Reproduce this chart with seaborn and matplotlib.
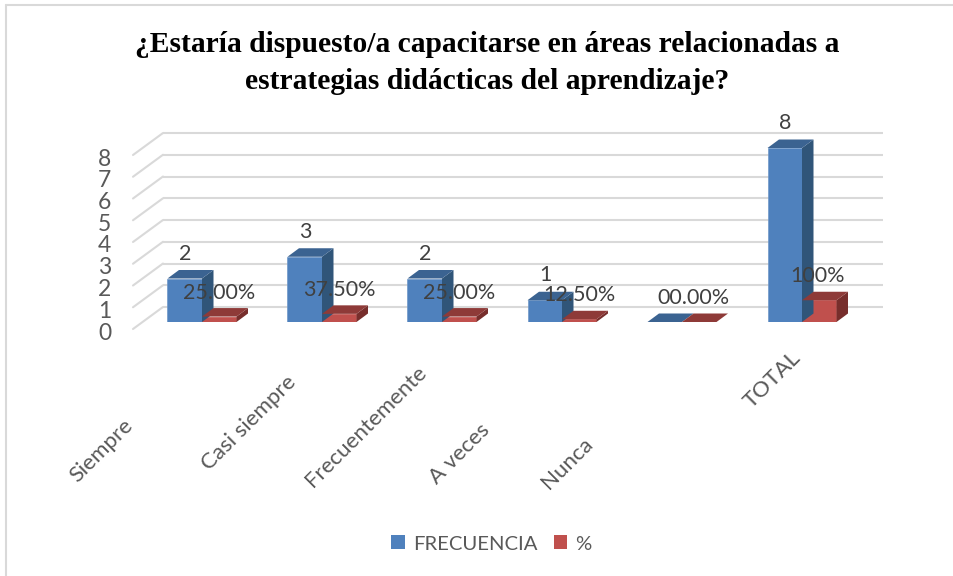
import matplotlib
matplotlib.use("Agg")
import matplotlib.pyplot as plt
from matplotlib.lines import Line2D
from matplotlib.patches import Polygon
from matplotlib.transforms import Affine2D
import pandas as pd
import seaborn as sns

categories = ["Siempre", "Casi siempre", "Frecuentemente", "A veces", "Nunca", "TOTAL"]
frecuencia = [2, 3, 2, 1, 0, 8]
porcentaje = [0.25, 0.375, 0.25, 0.125, 0.0, 1.0]
frecuencia_labels = ["2", "3", "2", "1", "", "8"]
porcentaje_labels = ["25.00%", "37.50%", "25.00%", "12.50%", "00.00%", "100%"]
y_ticks = [0, 1, 2, 3, 4, 5, 6, 7, 8]
title = "¿Estaría dispuesto/a capacitarse en áreas relacionadas a\nestrategias didácticas del aprendizaje?"

W, H = 954, 576
sns.set_theme(style="white")
plt.rcParams["font.family"] = ["Lato", "DejaVu Sans"]

BLUE, RED = "#4F81BD", "#C0504D"
faces = {BLUE: ("#3B6391", "#305579", "#6F97C8"), RED: ("#8E3A38", "#772E2C", "#C0504D")}

df = pd.DataFrame({
    "cat": categories * 2,
    "valor": frecuencia + porcentaje,
    "serie": ["FRECUENCIA"] * 6 + ["%"] * 6,
})

fig = plt.figure(figsize=(W / 100, H / 100), dpi=100, facecolor="white")
L, R, B, T = 133, 883, 322, 132
ax = fig.add_axes([L / W, 1 - B / H, (R - L) / W, (B - T) / H])
sns.barplot(data=df, x="cat", y="valor", hue="serie", palette=[BLUE, RED],
            width=0.575, gap=0, saturation=1, ax=ax, zorder=3)

PX_X = 120.0          # pixels per category
PX_Y = 21.75          # pixels per unit
ax.set_xlim(-69 / PX_X, (R - 202) / PX_X)
ax.set_ylim(0, (B - T) / PX_Y)
ax.set_xlabel("")
ax.set_ylabel("")
sns.despine(ax=ax, left=True, bottom=True)
ax.patch.set_alpha(0)

# back wall and left wall gridlines
GRID = "#D9D9D9"
back_dy, front_dy = 15 / PX_Y, -7 / PX_Y
x_front, x_back = ax.get_xlim()[0], -39 / PX_X
for v in y_ticks:
    ax.plot([x_back, ax.get_xlim()[1]], [v + back_dy] * 2, color=GRID, lw=1.5,
            clip_on=False, zorder=1, solid_capstyle="butt")
    ax.plot([x_front, x_back], [v + front_dy, v + back_dy], color=GRID, lw=1.5,
            clip_on=False, zorder=1)

# 3D faces of the bars
ddx, ddy = 11.5 / PX_X, 8.5 / PX_Y
bars = [p for c in ax.containers for p in c]
for p in bars:
    x0, w, h = p.get_x(), p.get_width(), p.get_height()
    col = matplotlib.colors.to_hex(p.get_facecolor())
    top, side, edge = faces[col.upper()]
    p.set_edgecolor(edge)
    p.set_linewidth(0.5)
    p.set_zorder(4)
    ax.add_patch(Polygon([(x0 + w, 0), (x0 + w + ddx, ddy), (x0 + w + ddx, h + ddy), (x0 + w, h)],
                         closed=True, facecolor=side, edgecolor="none", zorder=4, clip_on=False))
    ax.add_patch(Polygon([(x0, h), (x0 + w, h), (x0 + w + ddx, h + ddy), (x0 + ddx, h + ddy)],
                         closed=True, facecolor=top, edgecolor="none", zorder=4, clip_on=False))

# data labels
TXT = "#404040"
for p, lab in zip(ax.containers[0], frecuencia_labels):
    ax.annotate(lab, (p.get_x() + p.get_width() / 2, p.get_height()), xytext=(0.5, 25),
                textcoords="offset pixels", ha="center", va="center", fontsize=15.5,
                color=TXT, zorder=6, annotation_clip=False)
red_dx = [0, 0, 0, 0, -6, -2]
for p, lab, dx in zip(ax.containers[1], porcentaje_labels, red_dx):
    ax.annotate(lab, (p.get_x() + p.get_width() / 2, p.get_height()), xytext=(dx, 24),
                textcoords="offset pixels", ha="center", va="center", fontsize=15.5,
                color=TXT, zorder=6, annotation_clip=False)

# y tick labels sit on the front edge of the floor
ax.set_yticks(y_ticks)
ax.tick_params(axis="y", length=0, pad=15.5, labelsize=16.5, labelcolor="#595959")
shift_y = Affine2D().translate(0, -9)
for t in ax.get_yticklabels():
    t.set_transform(t.get_transform() + shift_y)

# rotated x tick labels, individually placed
ax.set_xticks(range(len(categories)), categories)
targets = [(102, 451), (249, 423), (366, 426), (460, 454), (567, 463), (772, 380)]
ax.tick_params(axis="x", length=0, pad=0, labelsize=16, labelcolor="#595959")
for i, (t, (tx, ty)) in enumerate(zip(ax.get_xticklabels(), targets)):
    t.set_rotation(45)
    t.set_ha("center")
    t.set_va("center")
    t.set_transform(t.get_transform() + Affine2D().translate(tx - (202 + 120 * i), -(ty - B)))

# legend
sns.move_legend(ax, "center", bbox_to_anchor=(491.5 / W, 1 - 544 / H),
                bbox_transform=fig.transFigure, ncol=2, frameon=False, title=None,
                fontsize=14.6, handlelength=0.67, handleheight=0.67, handletextpad=0.4,
                columnspacing=0.8, labelcolor="#595959")
for h in ax.get_legend().legend_handles:
    h.set_edgecolor("none")

fig.text(487.5 / W, 1 - 63 / H, title, ha="center", va="center", fontsize=21.25,
         fontweight="bold", family="Liberation Serif", color="black", linespacing=1.45)

# chart frame (left and top edges visible)
fig.add_artist(Line2D([6.5 / W, 6.5 / W], [0, 1 - 4.5 / H], color=GRID, lw=1.5))
fig.add_artist(Line2D([6 / W, 1], [1 - 4.5 / H, 1 - 4.5 / H], color=GRID, lw=1.5))

fig.savefig("out.png", dpi=100, facecolor="white")
